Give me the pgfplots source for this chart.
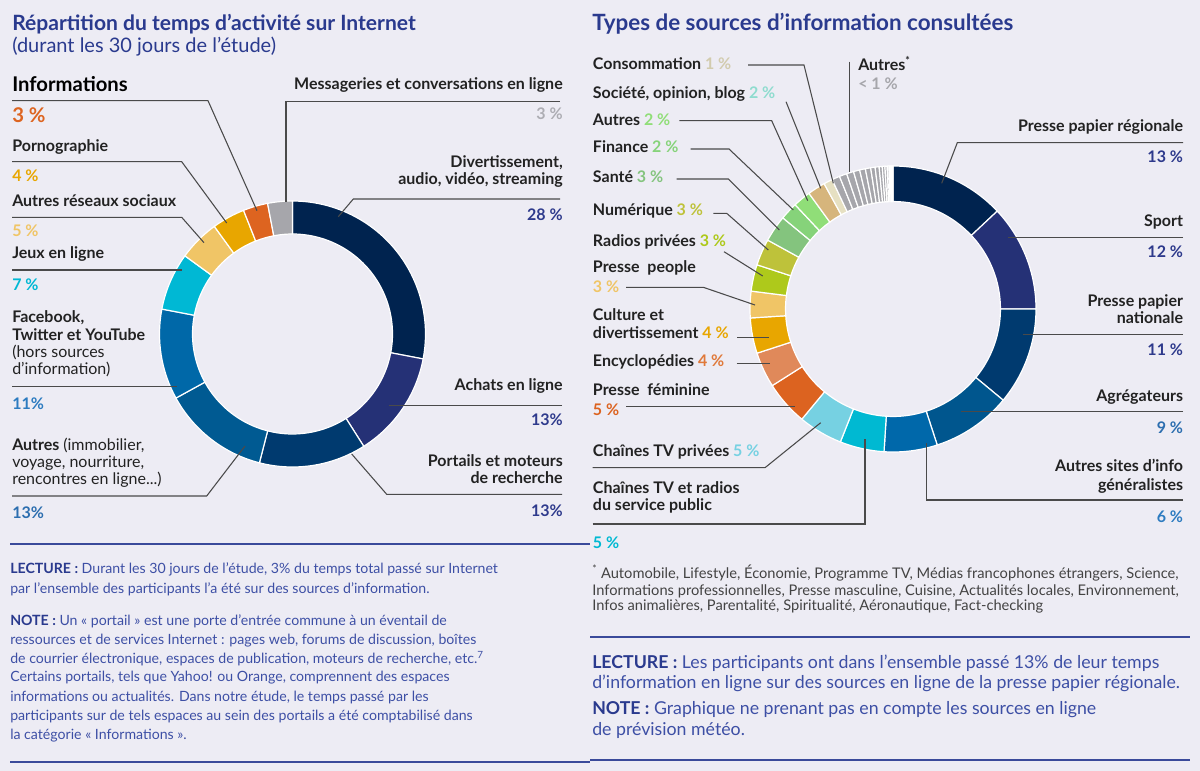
\documentclass[border=0pt]{standalone}
\usepackage{fontspec}
\setmainfont{Lato}
\usepackage{pgfplots}
\usepackage{pgfplotstable}
\pgfplotsset{compat=1.18}

\definecolor{bg}{HTML}{EDECF4}
\definecolor{titleblue}{HTML}{2A3A8E}
\definecolor{bodyblue}{HTML}{3D4FA5}
\definecolor{ruleblue}{HTML}{3A4A9A}
\definecolor{labc}{HTML}{222222}
\definecolor{leadc}{HTML}{4A4A4A}
% left donut
\definecolor{L1}{HTML}{00234F}
\definecolor{L2}{HTML}{253176}
\definecolor{L3}{HTML}{003A6F}
\definecolor{L4}{HTML}{005A92}
\definecolor{L5}{HTML}{0068A8}
\definecolor{L6}{HTML}{00B8D4}
\definecolor{L7}{HTML}{F0C566}
\definecolor{L8}{HTML}{E8A600}
\definecolor{L9}{HTML}{DD6420}
\definecolor{L10}{HTML}{A6A6AB}
% right donut
\definecolor{R1}{HTML}{00234F}
\definecolor{R2}{HTML}{253176}
\definecolor{R3}{HTML}{003A6F}
\definecolor{R4}{HTML}{00568E}
\definecolor{R5}{HTML}{0068AA}
\definecolor{R6}{HTML}{00B9D2}
\definecolor{R7}{HTML}{76D1E2}
\definecolor{R8}{HTML}{DC6320}
\definecolor{R9}{HTML}{E0895A}
\definecolor{R10}{HTML}{E8A600}
\definecolor{R11}{HTML}{F0C566}
\definecolor{R12}{HTML}{AEC91B}
\definecolor{R13}{HTML}{BEC23A}
\definecolor{R14}{HTML}{84C47E}
\definecolor{R15}{HTML}{86D37A}
\definecolor{R16}{HTML}{90DE78}
\definecolor{R17}{HTML}{D6B57C}
\definecolor{R18}{HTML}{E6E0C2}
\definecolor{RG}{HTML}{A6A6AB}
% percent colours
\definecolor{pIndigo}{HTML}{2E3A8C}
\definecolor{pBlue}{HTML}{2C7BC0}
\definecolor{pBlue2}{HTML}{2C6EAF}
\definecolor{pGrey}{HTML}{ADADB3}
\definecolor{pBeige}{HTML}{D2CBAE}
\definecolor{pMint}{HTML}{8FDCCF}
\definecolor{pEnc}{HTML}{E0793A}

\pgfplotstableread{
val col
28 L1
13 L2
13 L3
13 L4
11 L5
7 L6
5 L7
4 L8
3 L9
3 L10
}\lefttab

\pgfplotstableread{
val col
13 R1
12 R2
11 R3
9 R4
6 R5
5 R6
5 R7
5 R8
4 R9
4 R10
3 R11
3 R12
3 R13
3 R14
2 R15
2 R16
2 R17
1 R18
0.9 RG
0.85 RG
0.8 RG
0.7 RG
0.65 RG
0.6 RG
0.5 RG
0.45 RG
0.35 RG
0.3 RG
0.25 RG
0.2 RG
0.15 RG
0.1 RG
0.1 RG
0.1 RG
}\righttab

\newcommand\slice[7]{\fill[#1,draw=white,line width=0.9pt]
  ([shift={(#2:#6)}]axis cs:#4,#5) arc[start angle=#2,end angle=#3,radius=#6]
  -- ([shift={(#3:#7)}]axis cs:#4,#5) arc[start angle=#3,end angle=#2,radius=#7] -- cycle;}

\newcommand\buildslices[6]{%
  \pgfplotstablegetrowsof{#1}%
  \pgfmathtruncatemacro\nlast{\pgfplotsretval-1}%
  \gdef#2{}%
  \gdef\accang{90}%
  \foreach \i in {0,...,\nlast}{%
    \pgfplotstablegetelem{\i}{val}\of#1\let\myval\pgfplotsretval
    \pgfplotstablegetelem{\i}{col}\of#1\let\mycol\pgfplotsretval
    \pgfmathsetmacro\angB{\accang-\myval*3.6}%
    \xdef#2{\unexpanded\expandafter{#2}\noexpand\slice{\mycol}{\accang}{\angB}{#3}{#4}{#5}{#6}}%
    \xdef\accang{\angB}%
  }%
}
\buildslices{\lefttab}{\leftslices}{292.5}{334}{99.75pt}{75pt}
\buildslices{\righttab}{\rightslices}{893}{309}{107.25pt}{80.6pt}

\newcommand\ftitle{\fontsize{15.8}{18}\bfseries\selectfont}
\newcommand\ftitleR{\fontsize{16.8}{18}\bfseries\selectfont}
\newcommand\fsub{\fontsize{15}{17}\selectfont}
\newcommand\flab{\fontsize{12}{14}\bfseries\selectfont}
\newcommand\flabr{\fontsize{12}{14}\selectfont}
\newcommand\fbig{\fontsize{15.2}{17}\bfseries\selectfont}
\newcommand\fbody{\fontsize{10.6}{12}\selectfont}
\newcommand\fbodyR{\fontsize{13.3}{15}\selectfont}
\newcommand\ffoot{\fontsize{11}{12}\selectfont}

\tikzset{
  W/.style={anchor=base west,inner sep=0pt,text=labc,font=\flab},
  E/.style={anchor=base east,inner sep=0pt,text=labc,font=\flab},
  ld/.style={draw=leadc,line width=0.8pt},
  rl/.style={draw=ruleblue,line width=1.6pt},
}

\begin{document}
\begin{tikzpicture}
\begin{axis}[x=0.75pt,y=0.75pt,xmin=0,xmax=1200,ymin=0,ymax=771,
  y dir=reverse,hide axis,clip=false]
\fill[bg] (0,0) rectangle (1200,771);
\leftslices
\rightslices

% ---------- left chart ----------
\node[W,font=\ftitle,text=titleblue] at (12,30) {Répartition du temps d'activité sur Internet};
\node[W,font=\fsub,text=titleblue] at (12,52) {(durant les 30 jours de l'étude)};

\draw[ld] (12,100.7) -- (208,100.7) -- (257,210.7);
\draw[ld] (12,161.7) -- (181.7,161.7) -- (226.7,223);
\draw[ld] (12,217.3) -- (181.7,217.3) -- (204,242.7);
\draw[ld] (12,270) -- (181.7,270);
\draw[ld] (12,386.7) -- (176.7,386.7);
\draw[ld] (12,496) -- (206.7,496) -- (245,446);
\draw[ld] (560,101.7) -- (286,101.7) -- (286,202);
\draw[ld] (560,199) -- (353.3,199) -- (338.3,216.7);
\draw[ld] (562,405.3) -- (389.3,405.3);
\draw[ld] (562,494.3) -- (386.7,494.3) -- (351.7,454);

\node[W,font=\fbig,text=black] at (12,91.7) {Informations};
\node[W,font=\fbig,text=L9] at (12,122.7) {3 \%};
\node[W] at (12,151.7) {Pornographie};
\node[W,text=L8] at (12,181.7) {4 \%};
\node[W] at (12,206.7) {Autres réseaux sociaux};
\node[W,text=L7] at (12,236.7) {5 \%};
\node[W] at (12,258.3) {Jeux en ligne};
\node[W,text=L6] at (12,290.7) {7 \%};
\node[W] at (12,322.7) {Facebook,};
\node[W] at (12,340) {Twitter et YouTube};
\node[W,font=\flabr] at (12,357.3) {(hors sources};
\node[W,font=\flabr] at (12,374) {d'information)};
\node[W,text=pBlue] at (12,409) {11\%};
\node[W] at (12,450.7) {Autres {\mdseries (immobilier,}};
\node[W,font=\flabr] at (12,467.3) {voyage, nourriture,};
\node[W,font=\flabr] at (12,484.3) {rencontres en ligne...)};
\node[W,text=pBlue2] at (12,518.3) {13\%};

\node[E] at (563,89.3) {Messageries et conversations en ligne};
\node[E,text=pGrey] at (563,119.3) {3 \%};
\node[E] at (563,167.3) {Divertissement,};
\node[E] at (563,184) {audio, vidéo, streaming};
\node[E,text=pIndigo] at (563,220.7) {28 \%};
\node[E] at (563,390) {Achats en ligne};
\node[E,text=pIndigo] at (563,425) {13\%};
\node[E] at (563,466.7) {Portails et moteurs};
\node[E] at (563,483.3) {de recherche};
\node[E,text=pIndigo] at (563,516) {13\%};

\draw[rl] (10,544) -- (590,544);
\draw[rl] (10,762) -- (590,762);
\begin{scope}[every node/.style={anchor=base west,inner sep=0pt,text=bodyblue,font=\fbody}]
\node at (10,573.3) {{\bfseries\color{titleblue}LECTURE :} Durant les 30 jours de l'étude, 3\% du temps total passé sur Internet};
\node at (10,593.3) {par l'ensemble des participants l'a été sur des sources d'information.};
\node at (10,625) {{\bfseries\color{titleblue}NOTE :} Un «~portail~» est une porte d'entrée commune à un éventail de};
\node at (10,644) {ressources et de services Internet : pages web, forums de discussion, boîtes};
\node at (10,663.3) {de courrier électronique, espaces de publication, moteurs de recherche, etc.\textsuperscript{7}};
\node at (10,681.7) {Certains portails, tels que Yahoo! ou Orange, comprennent des espaces};
\node at (10,701) {informations ou actualités. Dans notre étude, le temps passé par les};
\node at (10,720) {participants sur de tels espaces au sein des portails a été comptabilisé dans};
\node at (10,739) {la catégorie «~Informations~».};
\end{scope}

% ---------- right chart ----------
\node[W,font=\ftitleR,text=titleblue] at (592,30) {Types de sources d'information consultées};

\draw[ld] (748,65) -- (804,65) -- (833.3,183.3);
\draw[ld] (786,101.7) -- (820.7,188.3);
\draw[ld] (679.3,120.7) -- (771.7,120.7) -- (807.7,200.7);
\draw[ld] (690.7,149) -- (729,149) -- (793.3,210);
\draw[ld] (676.7,179) -- (728.3,179) -- (779.3,230);
\draw[ld] (713.3,213.3) -- (726.7,213.3) -- (768.3,250);
\draw[ld] (724,251.7) -- (762.7,276);
\draw[ld] (626,287.3) -- (703.3,287.3) -- (755,305);
\draw[ld] (737.3,337.7) -- (769.3,337.7);
\draw[ld] (736.7,363.3) -- (770,363.3);
\draw[ld] (626,406.7) -- (795,406.7);
\draw[ld] (592.7,467.7) -- (765,467.7) -- (820.7,422.7);
\draw[ld] (592.7,524) -- (865,524) -- (865,439.3);
\draw[ld] (849.3,61.7) -- (849.3,171.7);
\draw[ld] (1183,142.7) -- (957.3,142.7) -- (941.7,183.3);
\draw[ld] (1183,237.7) -- (1008.3,237.7);
\draw[ld] (1183,334.3) -- (1023.3,334.3);
\draw[ld] (1183,411.7) -- (961,411.7);
\draw[ld] (1183,500) -- (926.7,500) -- (926.7,443.3);

\node[W] at (592.7,69.3) {Consommation {\color{pBeige}1 \%}};
\node[W] at (592.7,98.3) {Société, opinion, blog {\color{pMint}2 \%}};
\node[W] at (592.7,125) {Autres {\color{R16}2 \%}};
\node[W] at (592.7,152.7) {Finance {\color{R15}2 \%}};
\node[W] at (592.7,182.7) {Santé {\color{R14}3 \%}};
\node[W] at (592.7,215) {Numérique {\color{R13}3 \%}};
\node[W] at (592.7,246) {Radios privées {\color{R12}3 \%}};
\node[W] at (592.7,272.7) {Presse\ \ people};
\node[W,text=R11] at (592.7,292.7) {3 \%};
\node[W] at (592.7,320) {Culture et};
\node[W] at (592.7,338.3) {divertissement {\color{R10}4 \%}};
\node[W] at (592.7,366.7) {Encyclopédies {\color{pEnc}4 \%}};
\node[W] at (592.7,395) {Presse\ \ féminine};
\node[W,text=R8] at (592.7,415) {5 \%};
\node[W] at (592.7,456.7) {Chaînes TV privées {\color{R7}5 \%}};
\node[W] at (592.7,493.3) {Chaînes TV et radios};
\node[W] at (592.7,510.7) {du service public};
\node[W,text=R6] at (592.7,548.3) {5 \%};
\node[W] at (858,70) {Autres\textsuperscript{*}};
\node[W,text=RG] at (858,89) {< 1 \%};

\node[E] at (1183.3,131.7) {Presse papier régionale};
\node[E,text=pIndigo] at (1183.3,162.7) {13 \%};
\node[E] at (1183.3,226.7) {Sport};
\node[E,text=pIndigo] at (1183.3,257.3) {12 \%};
\node[E] at (1183.3,306) {Presse papier};
\node[E] at (1183.3,323) {nationale};
\node[E,text=pIndigo] at (1183.3,355) {11 \%};
\node[E] at (1183.3,401) {Agrégateurs};
\node[E,text=pBlue2] at (1183.3,433) {9 \%};
\node[E] at (1183.3,471) {Autres sites d'info};
\node[E] at (1183.3,490) {généralistes};
\node[E,text=pBlue] at (1183.3,522) {6 \%};

\begin{scope}[every node/.style={anchor=base west,inner sep=0pt,text=labc!85,font=\ffoot}]
\node at (592,578) {\textsuperscript{*} Automobile, Lifestyle, Économie, Programme TV, Médias francophones étrangers, Science,};
\node at (592,595) {Informations professionnelles, Presse masculine, Cuisine, Actualités locales, Environnement,};
\node at (592,610) {Infos animalières, Parentalité, Spiritualité, Aéronautique, Fact-checking};
\end{scope}
\draw[rl] (590,637) -- (1190,637);
\draw[rl] (590,760) -- (1190,760);
\begin{scope}[every node/.style={anchor=base west,inner sep=0pt,text=bodyblue,font=\fbodyR}]
\node at (592,668.3) {{\bfseries\color{titleblue}LECTURE :} Les participants ont dans l'ensemble passé 13\% de leur temps};
\node at (592,688.3) {d'information en ligne sur des sources en ligne de la presse papier régionale.};
\node at (592,714.3) {{\bfseries\color{titleblue}NOTE :} Graphique ne prenant pas en compte les sources en ligne};
\node at (592,735) {de prévision météo.};
\end{scope}
\end{axis}
\end{tikzpicture}
\end{document}
